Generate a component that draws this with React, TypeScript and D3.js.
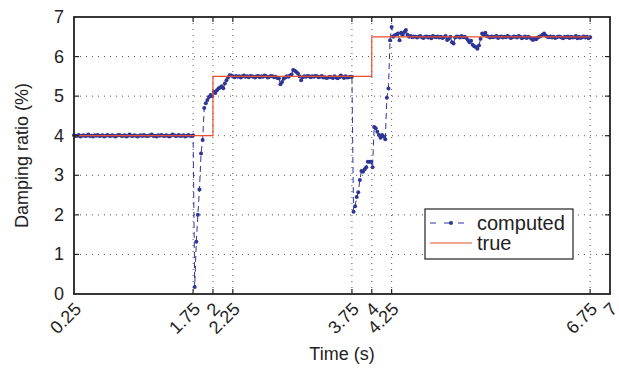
import React from "react";
import * as d3 from "d3";

const WIDTH = 619;
const HEIGHT = 381;
const PLOT = { left: 74, right: 610, top: 17, bottom: 294 };

// Sampling of the identified damping ratio (s)
const T_START = 0.25;
const T_STEP = 0.02;

// Identified damping ratio (%), one value per sample
const computedValues = [
  // 0.25 – 1.75 s
  4.01, 3.99, 4.0, 4.02, 3.98, 4.0, 4.01, 3.99, 4.0, 4.03,
  3.99, 4.0, 3.98, 4.01, 4.0, 4.02, 3.99, 4.0, 4.01, 3.98,
  4.0, 4.02, 4.0, 3.99, 4.01, 4.0, 3.98, 4.0, 4.02, 4.01,
  3.99, 4.0, 4.01, 3.98, 4.0, 4.03, 4.0, 3.99, 4.01, 4.0,
  3.98, 4.0, 4.01, 3.99, 4.02, 4.0, 3.99, 4.0, 4.01, 4.03,
  3.99, 4.0, 3.98, 4.01, 4.0, 4.02, 4.0, 3.99, 4.01, 4.0,
  3.98, 4.0, 4.03, 4.01, 3.99, 4.0, 4.02, 3.99, 4.0, 4.01,
  3.98, 4.0, 4.02, 4.0, 3.99, 4.01,
  // transient after the first change
  0.18, 1.32, 2.0, 2.64, 3.55, 3.89, 4.7, 4.82, 4.9, 4.98,
  5.03, 5.0, 5.11, 5.08, 5.15, 5.19, 5.22, 5.25, 5.2, 5.32,
  5.4, 5.47, 5.53,
  // second plateau
  5.52, 5.5, 5.48, 5.51, 5.49, 5.5, 5.47, 5.5, 5.52, 5.49,
  5.5, 5.48, 5.51, 5.5, 5.49, 5.47, 5.5, 5.51, 5.48, 5.5,
  5.49, 5.52, 5.5, 5.47, 5.49, 5.51, 5.5, 5.48, 5.49, 5.46,
  5.45, 5.3, 5.36, 5.44, 5.47, 5.5, 5.49, 5.52, 5.55, 5.66,
  5.64, 5.61, 5.57, 5.5, 5.4, 5.48, 5.5, 5.49, 5.51, 5.5,
  5.48, 5.5, 5.49, 5.51, 5.5, 5.48, 5.49, 5.51, 5.47, 5.48,
  5.46, 5.47, 5.49, 5.48, 5.46, 5.5, 5.47, 5.45, 5.48, 5.52,
  5.49, 5.46, 5.5, 5.47, 5.48, 5.49, 5.49,
  // transient after the second change
  2.08, 2.22, 2.45, 2.57, 2.88, 3.11, 3.09, 3.15, 3.2, 3.34,
  3.34, 3.34, 3.2, 4.22, 4.19, 4.1, 4.02, 3.95, 4.02, 3.98,
  3.91, 4.96, 5.19, 6.41, 6.75,
  // third plateau
  6.5, 6.54, 6.56, 6.58, 6.41, 6.6, 6.55, 6.62, 6.67, 6.55,
  6.5, 6.52, 6.49, 6.51, 6.5, 6.48, 6.5, 6.52, 6.49, 6.47,
  6.5, 6.51, 6.48, 6.5, 6.46, 6.52, 6.5, 6.49, 6.51, 6.48,
  6.5, 6.47, 6.49, 6.52, 6.42, 6.45, 6.5, 6.36, 6.33, 6.48,
  6.51, 6.5, 6.48, 6.52, 6.49, 6.5, 6.47, 6.42, 6.36, 6.4,
  6.3, 6.26, 6.24, 6.2, 6.28, 6.45, 6.58, 6.55, 6.6, 6.52,
  6.5, 6.48, 6.51, 6.49, 6.5, 6.52, 6.47, 6.5, 6.51, 6.48,
  6.5, 6.49, 6.52, 6.5, 6.47, 6.49, 6.51, 6.5, 6.48, 6.52,
  6.5, 6.46, 6.49, 6.51, 6.47, 6.5, 6.48, 6.45, 6.42, 6.46,
  6.44, 6.48, 6.5, 6.52, 6.55, 6.58, 6.53, 6.5, 6.49, 6.51,
  6.48, 6.5, 6.47, 6.49, 6.51, 6.5, 6.48, 6.46, 6.5, 6.49,
  6.51, 6.47, 6.5, 6.48, 6.49, 6.52, 6.46, 6.5, 6.47, 6.49,
  6.51, 6.48, 6.5, 6.46, 6.49,
];

// True damping ratio: piecewise constant
const trueTimes = [0.25, 2, 4, 6.75];
const trueValues = [4, 5.5, 6.5, 6.5];

const xTicks = [0.25, 1.75, 2, 2.25, 3.75, 4, 4.25, 6.75, 7];
const yTicks = [0, 1, 2, 3, 4, 5, 6, 7];

const BLUE = "#2f3593";
const RED = "#e8502f";
const INK = "#222";
const FONT = "'Liberation Sans', Arial, Helvetica, sans-serif";

export default function App() {
  const x = d3.scaleLinear().domain([0.25, 7]).range([PLOT.left, PLOT.right]);
  const y = d3.scaleLinear().domain([0, 7]).range([PLOT.bottom, PLOT.top]);

  const computed = computedValues.map((v, i) => ({ t: T_START + i * T_STEP, v }));
  const truth = trueTimes.map((t, i) => ({ t, v: trueValues[i] }));

  const computedLine = d3
    .line<{ t: number; v: number }>()
    .x((d) => x(d.t))
    .y((d) => y(d.v));
  const trueLine = d3
    .line<{ t: number; v: number }>()
    .x((d) => x(d.t))
    .y((d) => y(d.v))
    .curve(d3.curveStepAfter);

  const innerX = xTicks.filter((t) => t > 0.25 && t < 7);
  const innerY = yTicks.filter((t) => t > 0 && t < 7);
  const tickLen = 5;

  const legend = { x: 425, y: 209, w: 148, h: 50 };

  return (
    <svg
      width={WIDTH}
      height={HEIGHT}
      style={{ position: "absolute", left: 0, top: 0, background: "#fff" }}
      fontFamily={FONT}
    >
      <rect width={WIDTH} height={HEIGHT} fill="#fff" />

      {/* dotted grid */}
      <g stroke="#555" strokeWidth={1} strokeDasharray="1,5">
        {innerX.map((t) => (
          <line key={`gx${t}`} x1={x(t)} x2={x(t)} y1={PLOT.top} y2={PLOT.bottom} />
        ))}
        {innerY.map((v) => (
          <line key={`gy${v}`} x1={PLOT.left} x2={PLOT.right} y1={y(v)} y2={y(v)} />
        ))}
      </g>

      {/* computed series */}
      <path
        d={computedLine(computed) ?? ""}
        fill="none"
        stroke={BLUE}
        strokeWidth={1}
        strokeDasharray="6,4"
      />
      <g fill={BLUE}>
        {computed.map((d, i) => (
          <circle key={i} cx={x(d.t)} cy={y(d.v)} r={2} />
        ))}
      </g>

      {/* true series */}
      <path d={trueLine(truth) ?? ""} fill="none" stroke={RED} strokeWidth={1.2} />

      {/* ticks */}
      <g stroke={INK} strokeWidth={1.2}>
        {innerX.map((t) => (
          <g key={`tx${t}`}>
            <line x1={x(t)} x2={x(t)} y1={PLOT.bottom} y2={PLOT.bottom - tickLen} />
            <line x1={x(t)} x2={x(t)} y1={PLOT.top} y2={PLOT.top + tickLen} />
          </g>
        ))}
        {innerY.map((v) => (
          <g key={`ty${v}`}>
            <line x1={PLOT.left} x2={PLOT.left + tickLen} y1={y(v)} y2={y(v)} />
            <line x1={PLOT.right} x2={PLOT.right - tickLen} y1={y(v)} y2={y(v)} />
          </g>
        ))}
      </g>

      {/* frame */}
      <rect
        x={PLOT.left}
        y={PLOT.top}
        width={PLOT.right - PLOT.left}
        height={PLOT.bottom - PLOT.top}
        fill="none"
        stroke={INK}
        strokeWidth={1.8}
      />

      {/* tick labels */}
      <g fill={INK} fontSize={18}>
        {yTicks.map((v) => (
          <text key={`ly${v}`} x={PLOT.left - 10} y={y(v)} textAnchor="end" dominantBaseline="central">
            {v}
          </text>
        ))}
        {xTicks.map((t) => (
          <text
            key={`lx${t}`}
            textAnchor="end"
            dominantBaseline="central"
            transform={`translate(${x(t) + 4},${PLOT.bottom + 12}) rotate(-45)`}
          >
            {d3.format("~g")(t)}
          </text>
        ))}
      </g>

      {/* axis titles */}
      <text x={(PLOT.left + PLOT.right) / 2} y={360} textAnchor="middle" fontSize={18} fill={INK}>
        Time (s)
      </text>
      <text
        transform={`translate(22,${(PLOT.top + PLOT.bottom) / 2}) rotate(-90)`}
        textAnchor="middle"
        dominantBaseline="central"
        fontSize={18}
        fill={INK}
      >
        Damping ratio (%)
      </text>

      {/* legend */}
      <g>
        <rect
          x={legend.x}
          y={legend.y}
          width={legend.w}
          height={legend.h}
          fill="#fff"
          stroke={INK}
          strokeWidth={1.2}
        />
        <line
          x1={legend.x + 5}
          x2={legend.x + 47}
          y1={legend.y + 14}
          y2={legend.y + 14}
          stroke={BLUE}
          strokeWidth={1}
          strokeDasharray="6,8"
        />
        <circle cx={legend.x + 26} cy={legend.y + 14} r={2} fill={BLUE} />
        <text x={legend.x + 52} y={legend.y + 14} dominantBaseline="central" fontSize={20} fill={INK}>
          computed
        </text>
        <line
          x1={legend.x + 5}
          x2={legend.x + 47}
          y1={legend.y + 34}
          y2={legend.y + 34}
          stroke={RED}
          strokeWidth={1.2}
        />
        <text x={legend.x + 52} y={legend.y + 34} dominantBaseline="central" fontSize={20} fill={INK}>
          true
        </text>
      </g>
    </svg>
  );
}
